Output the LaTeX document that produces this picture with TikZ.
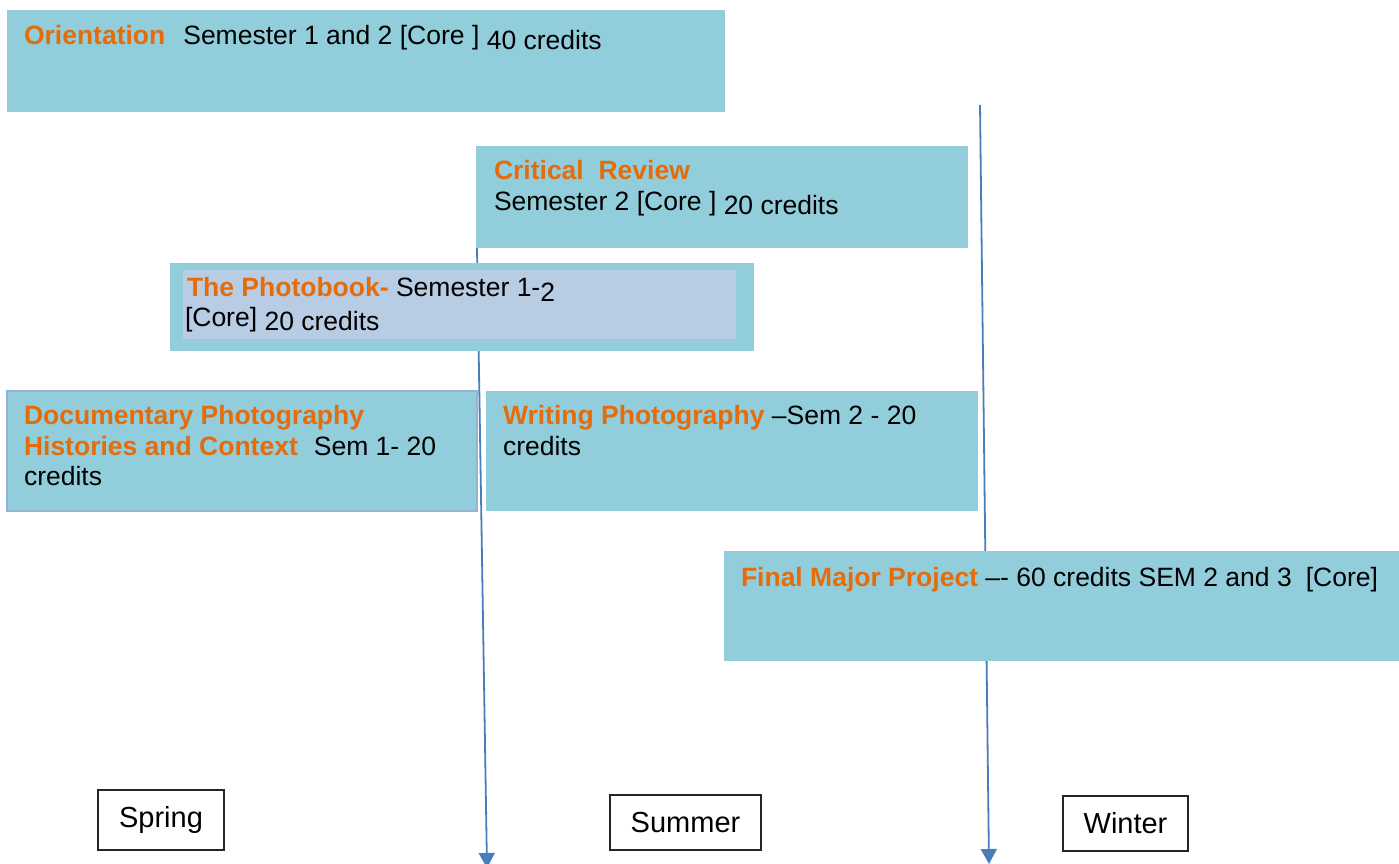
\documentclass[tikz,border=0pt]{standalone}
\usepackage{fontspec}
\setmainfont{Liberation Sans}
\usetikzlibrary{arrows.meta,backgrounds}
\definecolor{boxfill}{HTML}{92CDDC}
\definecolor{innerfill}{HTML}{B8CCE4}
\definecolor{orng}{HTML}{E46C0A}
\definecolor{arrowblue}{HTML}{4A7EBB}
\definecolor{docborder}{HTML}{95B3D7}
\newcommand{\ttl}[1]{\textcolor{orng}{\bfseries #1}}
\tikzset{
  modbox/.style={fill=boxfill, draw=none, anchor=north west, inner sep=0pt, outer sep=0pt},
  innerbox/.style={fill=innerfill, draw=none, anchor=north west, inner sep=0pt, outer sep=0pt},
  txt/.style={anchor=base west, inner sep=0pt, outer sep=0pt, font=\fontsize{26.5}{30.5}\selectfont},
  season/.style={draw=black!85, line width=1.3pt, anchor=north west, inner sep=0pt, outer sep=0pt, font=\fontsize{29}{33}\selectfont},
  flow/.style={draw=arrowblue, line width=1.8pt, -{Triangle[width=16pt,length=15pt]}, shorten >=0pt},
}
\begin{document}
\begin{tikzpicture}[x=1pt,y=-1pt]
\useasboundingbox (0,0) rectangle (1399,863);
% module boxes
\node[modbox, minimum width=718pt, minimum height=102pt] (ori) at (7,10) {};
\node[modbox, minimum width=492pt, minimum height=102pt] (cr) at (476,146) {};
\node[modbox, minimum width=584pt, minimum height=88pt] (pb) at (170,263) {};
\node[innerbox, minimum width=553pt, minimum height=69pt] (pbin) at (183,270) {};
\node[modbox, draw=docborder, line width=1.5pt, minimum width=470pt, minimum height=120pt] (doc) at (7,391) {};
\node[modbox, minimum width=492pt, minimum height=120pt] (wp) at (486,391) {};
\node[modbox, minimum width=675pt, minimum height=110pt] (fmp) at (724,551) {};
% texts
\node[txt] (orit) at (24,44) {\ttl{Orientation}\hspace{18pt}Semester 1 and 2 [Core ] \raisebox{-5pt}{40 credits}};
\node[txt] (crt1) at (494,179) {\ttl{Critical\ \ Review}};
\node[txt] (crt2) at (494,210) {Semester 2 [Core ] \raisebox{-4pt}{20 credits}};
\node[txt] (pbt1) at (187,296) {\ttl{The Photobook-} Semester 1-\raisebox{-5pt}{2}};
\node[txt] (pbt2) at (185,326) {[Core] \raisebox{-4pt}{20 credits}};
\node[txt] (doct1) at (24,424) {\ttl{Documentary Photography}};
\node[txt] (doct2) at (24,455) {\ttl{Histories and Context}\hspace{16pt}Sem 1- 20};
\node[txt] (doct3) at (24,485) {credits};
\node[txt] (wpt1) at (503,424) {\ttl{Writing Photography} –Sem 2 - 20};
\node[txt] (wpt2) at (503,455) {credits};
\node[txt] (fmpt) at (741,586) {\ttl{Final Major Project} –- 60 credits SEM 2 and 3\hspace{14pt}[Core]};
% seasons
\node[season, minimum width=126pt, minimum height=60pt] (spring) at (98,790) {Spring};
\node[season, minimum width=151pt, minimum height=55pt] (summer) at (610,795) {Summer};
\node[season, minimum width=125pt, minimum height=55pt] (winter) at (1063,796) {Winter};
% timeline arrows
\coordinate (lstart) at (477,248);
\coordinate (lend) at (487,868);
\coordinate (rstart) at (980,105);
\coordinate (rend) at (989,864);
\begin{scope}[on background layer]
\draw[flow] (lstart) -- (lend);
\draw[flow] (rstart) -- (rend);
\end{scope}
\end{tikzpicture}
\end{document}
